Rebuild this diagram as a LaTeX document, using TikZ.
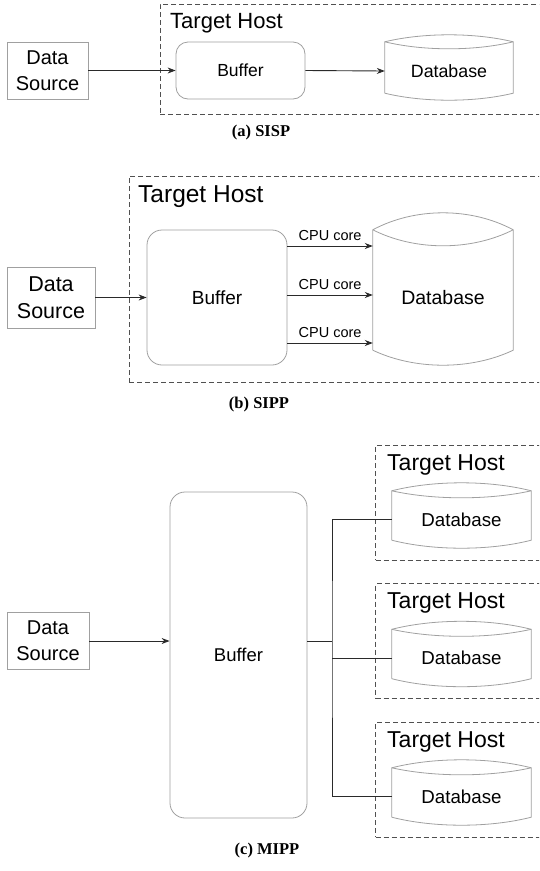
\documentclass[tikz,border=0pt]{standalone}
\usepackage{fontspec}
\setmainfont{Liberation Sans}
\newfontfamily\capfont{Liberation Serif}
\usetikzlibrary{arrows.meta,calc}
\definecolor{shapegray}{HTML}{A0A0A0}
\definecolor{hostgray}{HTML}{505050}
\definecolor{arrgray}{HTML}{2A2A2A}
\newcommand\fsz[1]{\fontsize{#1}{1.28\dimexpr#1pt\relax}\selectfont}
\newcommand\dbdraw[4]{%
  \draw[dbline] ($(#1.south west)+(0,-#4)$) -- (#1.north west)
    .. controls ($(#1.north west)!0.3!(#1.north east)+(0,-#2*1.333)$) and ($(#1.north west)!0.7!(#1.north east)+(0,-#2*1.333)$) .. (#1.north east)
    -- ($(#1.south east)+(0,-#4)$)
    .. controls ($(#1.south west)!0.7!(#1.south east)+(0,#4*0.333)$) and ($(#1.south west)!0.3!(#1.south east)+(0,#4*0.333)$) .. ($(#1.south west)+(0,-#4)$);
  \draw[dbline] (#1.north west)
    .. controls ($(#1.north west)!0.3!(#1.north east)+(0,#3*1.333)$) and ($(#1.north west)!0.7!(#1.north east)+(0,#3*1.333)$) .. (#1.north east);
}
\tikzset{
  srcbox/.style={draw=shapegray, line width=0.8pt, inner sep=0pt, align=center},
  bufbox/.style={draw=shapegray, line width=0.8pt, rounded corners=#1, inner sep=0pt},
  dbbox/.style={inner sep=0pt},
  host/.style={draw=hostgray, line width=0.9pt, dash pattern=on 5pt off 3pt, inner sep=0pt},
  arr/.style={draw=arrgray, line width=0.9pt, -{Stealth[length=8pt,width=6pt]}},
  conn/.style={draw=arrgray, line width=0.9pt},
  hostlabel/.style={anchor=base west, inner sep=0pt},
  caption/.style={font=\capfont\bfseries\fontsize{16.5}{18}\selectfont, inner sep=0pt},
  dbline/.style={draw=shapegray, line width=0.8pt},
  cpulabel/.style={font=\fsz{14.5}, inner sep=0pt, anchor=base},
}
\begin{document}
\begin{tikzpicture}[x=1pt,y=-1pt]
\useasboundingbox (0,0) rectangle (539,871);
\clip (0,0) rectangle (539,871);
% ---------------- (a) SISP ----------------
\node[host, minimum width=385pt, minimum height=110pt] (hosta) at (352.5,59) {};
\node[hostlabel, font=\fsz{22}] (tha) at (170,28) {Target Host};
\node[srcbox, minimum width=81pt, minimum height=57pt, font=\fsz{20}] (srca) at (47.5,70.5) {Data\\Source};
\node[bufbox=12pt, minimum width=129pt, minimum height=57pt, font=\fsz{17.5}] (bufa) at (240.5,70.5) {Buffer};
\node[dbbox, minimum width=128pt, minimum height=58pt, font=\fsz{17.8}] (dba) at (449,71) {Database};
\dbdraw{dba}{7}{7}{7}
\draw[arr] (srca.east |- bufa.west) -- (bufa.west);
\draw[arr] (bufa.east) -- (dba.west);
\node[caption] (capa) at (261,133) {(a) SISP};
% ---------------- (b) SIPP ----------------
\node[host, minimum width=416pt, minimum height=206pt] (hostb) at (337,279) {};
\node[hostlabel, font=\fsz{24.5}] (thb) at (138,202) {Target Host};
\node[srcbox, minimum width=88pt, minimum height=61pt, font=\fsz{21.5}] (srcb) at (51,297.5) {Data\\Source};
\node[bufbox=15pt, minimum width=140pt, minimum height=135pt, font=\fsz{19}] (bufb) at (217,297.5) {Buffer};
\node[dbbox, minimum width=140pt, minimum height=135pt, font=\fsz{19.5}] (dbb) at (443,297.5) {Database};
\dbdraw{dbb}{17}{16}{15}
\draw[arr] (srcb.east) -- (bufb.west);
\coordinate (yb1) at (0,246);
\coordinate (yb2) at (0,295);
\coordinate (yb3) at (0,343);
\draw[arr] (bufb.east |- yb1) -- node[cpulabel, yshift=6pt] (cpu1) {CPU core} (dbb.west |- yb1);
\draw[arr] (bufb.east |- yb2) -- node[cpulabel, yshift=6pt] (cpu2) {CPU core} (dbb.west |- yb2);
\draw[arr] (bufb.east |- yb3) -- node[cpulabel, yshift=6pt] (cpu3) {CPU core} (dbb.west |- yb3);
\node[caption] (capb) at (259,405) {(b) SIPP};
% ---------------- (c) MIPP ----------------
\node[srcbox, minimum width=82pt, minimum height=57pt, font=\fsz{20}] (srcc) at (48,641) {Data\\Source};
\node[bufbox=15pt, minimum width=137pt, minimum height=326pt, font=\fsz{18.5}] (bufc) at (238.5,655) {Buffer};
\draw[arr] (srcc.east) -- (srcc.east -| bufc.west);
\foreach \i/\dy in {1/0,2/138.5,3/277} {
  \node[host, minimum width=169.5pt, minimum height=115pt] (hostc\i) at (460.25,502.5+\dy) {};
  \node[hostlabel, font=\fsz{23}] (thc\i) at (387,470+\dy) {Target Host};
  \node[dbbox, minimum width=139pt, minimum height=57pt, font=\fsz{18.7}] (dbc\i) at (461.5,519.5+\dy) {Database};
  \dbdraw{dbc\i}{8}{7}{8}
}
\coordinate (jn) at (332,641);
\draw[conn] (srcc.east -| bufc.east) -- (jn);
\draw[conn] (dbc1.west) -| (jn) |- (dbc3.west);
\draw[conn] (jn |- dbc2.west) -- (dbc2.west);
\node[caption] (capc) at (267,851) {(c) MIPP};
\end{tikzpicture}
\end{document}
